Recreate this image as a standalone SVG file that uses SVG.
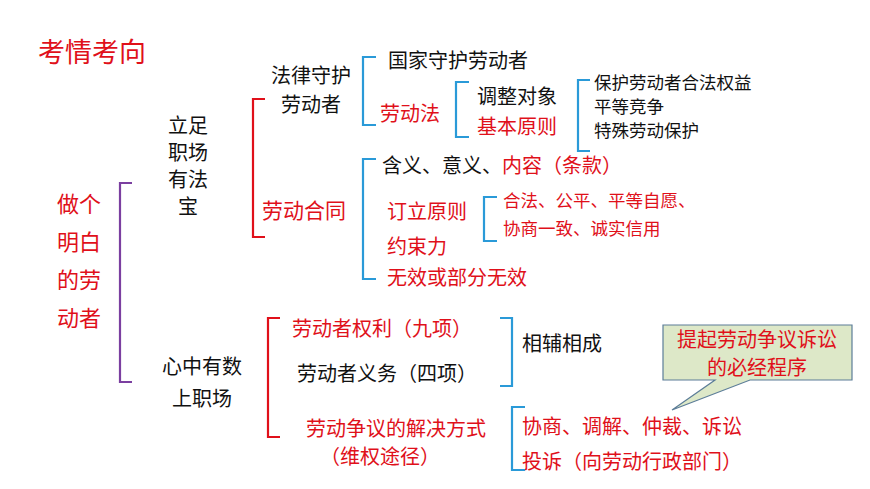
<svg xmlns="http://www.w3.org/2000/svg" width="870" height="489" viewBox="0 0 870 489">
<style>
text{font-family:"Noto Sans CJK SC","Liberation Sans",sans-serif;font-size:20px;fill:#111}
.r{fill:#e0101a}
.s{font-size:17.5px}
.c{text-anchor:middle}
.bb{fill:none;stroke:#2a9ad8;stroke-width:2.2}
.br{fill:none;stroke:#e0101a;stroke-width:2.2}
.bp{fill:none;stroke:#7b3fa0;stroke-width:2.2}
</style>
<rect width="870" height="489" fill="#fff"/>
<g id="title"><text x="38" y="62" class="r" style="font-size:27px">考情考向</text></g>
<g id="root"><text class="r c" style="font-size:22px" x="79" y="212">做个</text><text class="r c" style="font-size:22px" x="79" y="250">明白</text><text class="r c" style="font-size:22px" x="79" y="288">的劳</text><text class="r c" style="font-size:22px" x="79" y="326">动者</text></g>
<g id="n1"><text class="c" x="188" y="133">立足</text><text class="c" x="188" y="160">职场</text><text class="c" x="188" y="187">有法</text><text class="c" x="188" y="214">宝</text></g>
<g id="n2"><text class="c" x="202" y="374">心中有数</text><text class="c" x="202" y="406">上职场</text></g>
<g id="n3"><text class="c" x="311" y="83">法律守护</text><text class="c" x="311" y="112">劳动者</text></g>
<g id="n4"><text x="388" y="68">国家守护劳动者</text></g>
<g id="n5"><text class="r" x="380" y="121">劳动法</text></g>
<g id="n6"><text x="477" y="104">调整对象</text><text class="r" x="477" y="134">基本原则</text></g>
<g id="n7"><text class="s" x="594" y="89">保护劳动者合法权益</text><text class="s" x="594" y="113">平等竞争</text><text class="s" x="594" y="137">特殊劳动保护</text></g>
<g id="n8"><text class="r" style="font-size:21px" x="262" y="218">劳动合同</text></g>
<g id="n9"><text x="382" y="173">含义、意义、<tspan class="r">内容（条款）</tspan></text></g>
<g id="n10"><text class="r" x="387" y="219">订立原则</text><text class="r s" x="503" y="207">合法、公平、平等自愿、</text><text class="r s" x="503" y="235">协商一致、诚实信用</text></g>
<g id="n11"><text class="r" x="387" y="254">约束力</text><text class="r" x="387" y="285">无效或部分无效</text></g>
<g id="n12"><text class="r" x="292" y="336">劳动者权利（九项）</text><text x="297" y="381">劳动者义务（四项）</text><text x="522" y="351">相辅相成</text></g>
<g id="n13"><text class="r c" x="396" y="436">劳动争议的解决方式</text><text class="r c" x="380" y="464">（维权途径）</text></g>
<g id="n14"><text class="r" x="522" y="434">协商、调解、仲裁、诉讼</text><text class="r" x="522" y="469">投诉（向劳动行政部门）</text></g>
<g id="callout"><path d="M663,325 H852 V380 H750 L672,410 L715,380 H663 Z" fill="#dde8c8" stroke="#5c7d98" stroke-width="1.2"/><text class="r c" x="757" y="347">提起劳动争议诉讼</text><text class="r c" x="757" y="375">的必经程序</text></g>
<g id="connectors">
<path class="bp" d="M132,183 H120 V382 H132"/>
<path class="br" d="M265,99 H253 V237 H265"/>
<path class="bb" d="M376,57 H363 V125 H376"/>
<path class="bb" d="M469,82 H456 V137 H469"/>
<path class="bb" d="M590,80 H578 V151 H590"/>
<path class="bb" d="M376,159 H363 V279 H376"/>
<path class="bb" d="M497,197 H484 V241 H497"/>
<path class="br" d="M280,318 H268 V437 H280"/>
<path class="bb" d="M500,318 H512 V386 H500"/>
<path class="bb" d="M525,407 H512 V470 H525"/>
</g>
</svg>
